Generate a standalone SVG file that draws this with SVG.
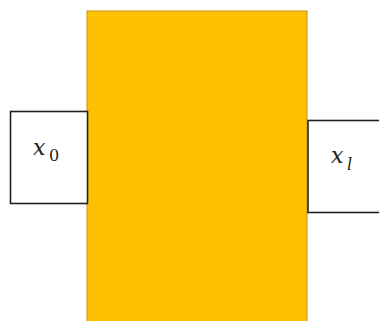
<svg xmlns="http://www.w3.org/2000/svg" width="379" height="321" viewBox="0 0 379 321">
<style>
.box{fill:#fff;stroke:#222;stroke-width:1.6}
.t{font-family:"DejaVu Serif","Liberation Serif",serif;font-style:italic;font-size:22px;fill:#222}
.s{font-family:"DejaVu Serif","Liberation Serif",serif;font-size:16px;fill:#222}
</style>
<rect width="379" height="321" fill="#fff"/>
<g id="block"><rect x="87" y="11" width="220" height="320" fill="#FFC000" stroke="#C9A227" stroke-width="1.2"/></g>
<g id="x0"><rect class="box" x="10.5" y="111.5" width="77" height="92"/>
<text x="33" y="155" class="t">x</text><text x="49" y="161" class="s">0</text></g>
<g id="xl"><rect class="box" x="308" y="120.5" width="75" height="92"/>
<text x="331" y="163" class="t">x</text><text x="347" y="170" class="s" font-style="italic">l</text></g>
<g id="connectors"></g>
</svg>
